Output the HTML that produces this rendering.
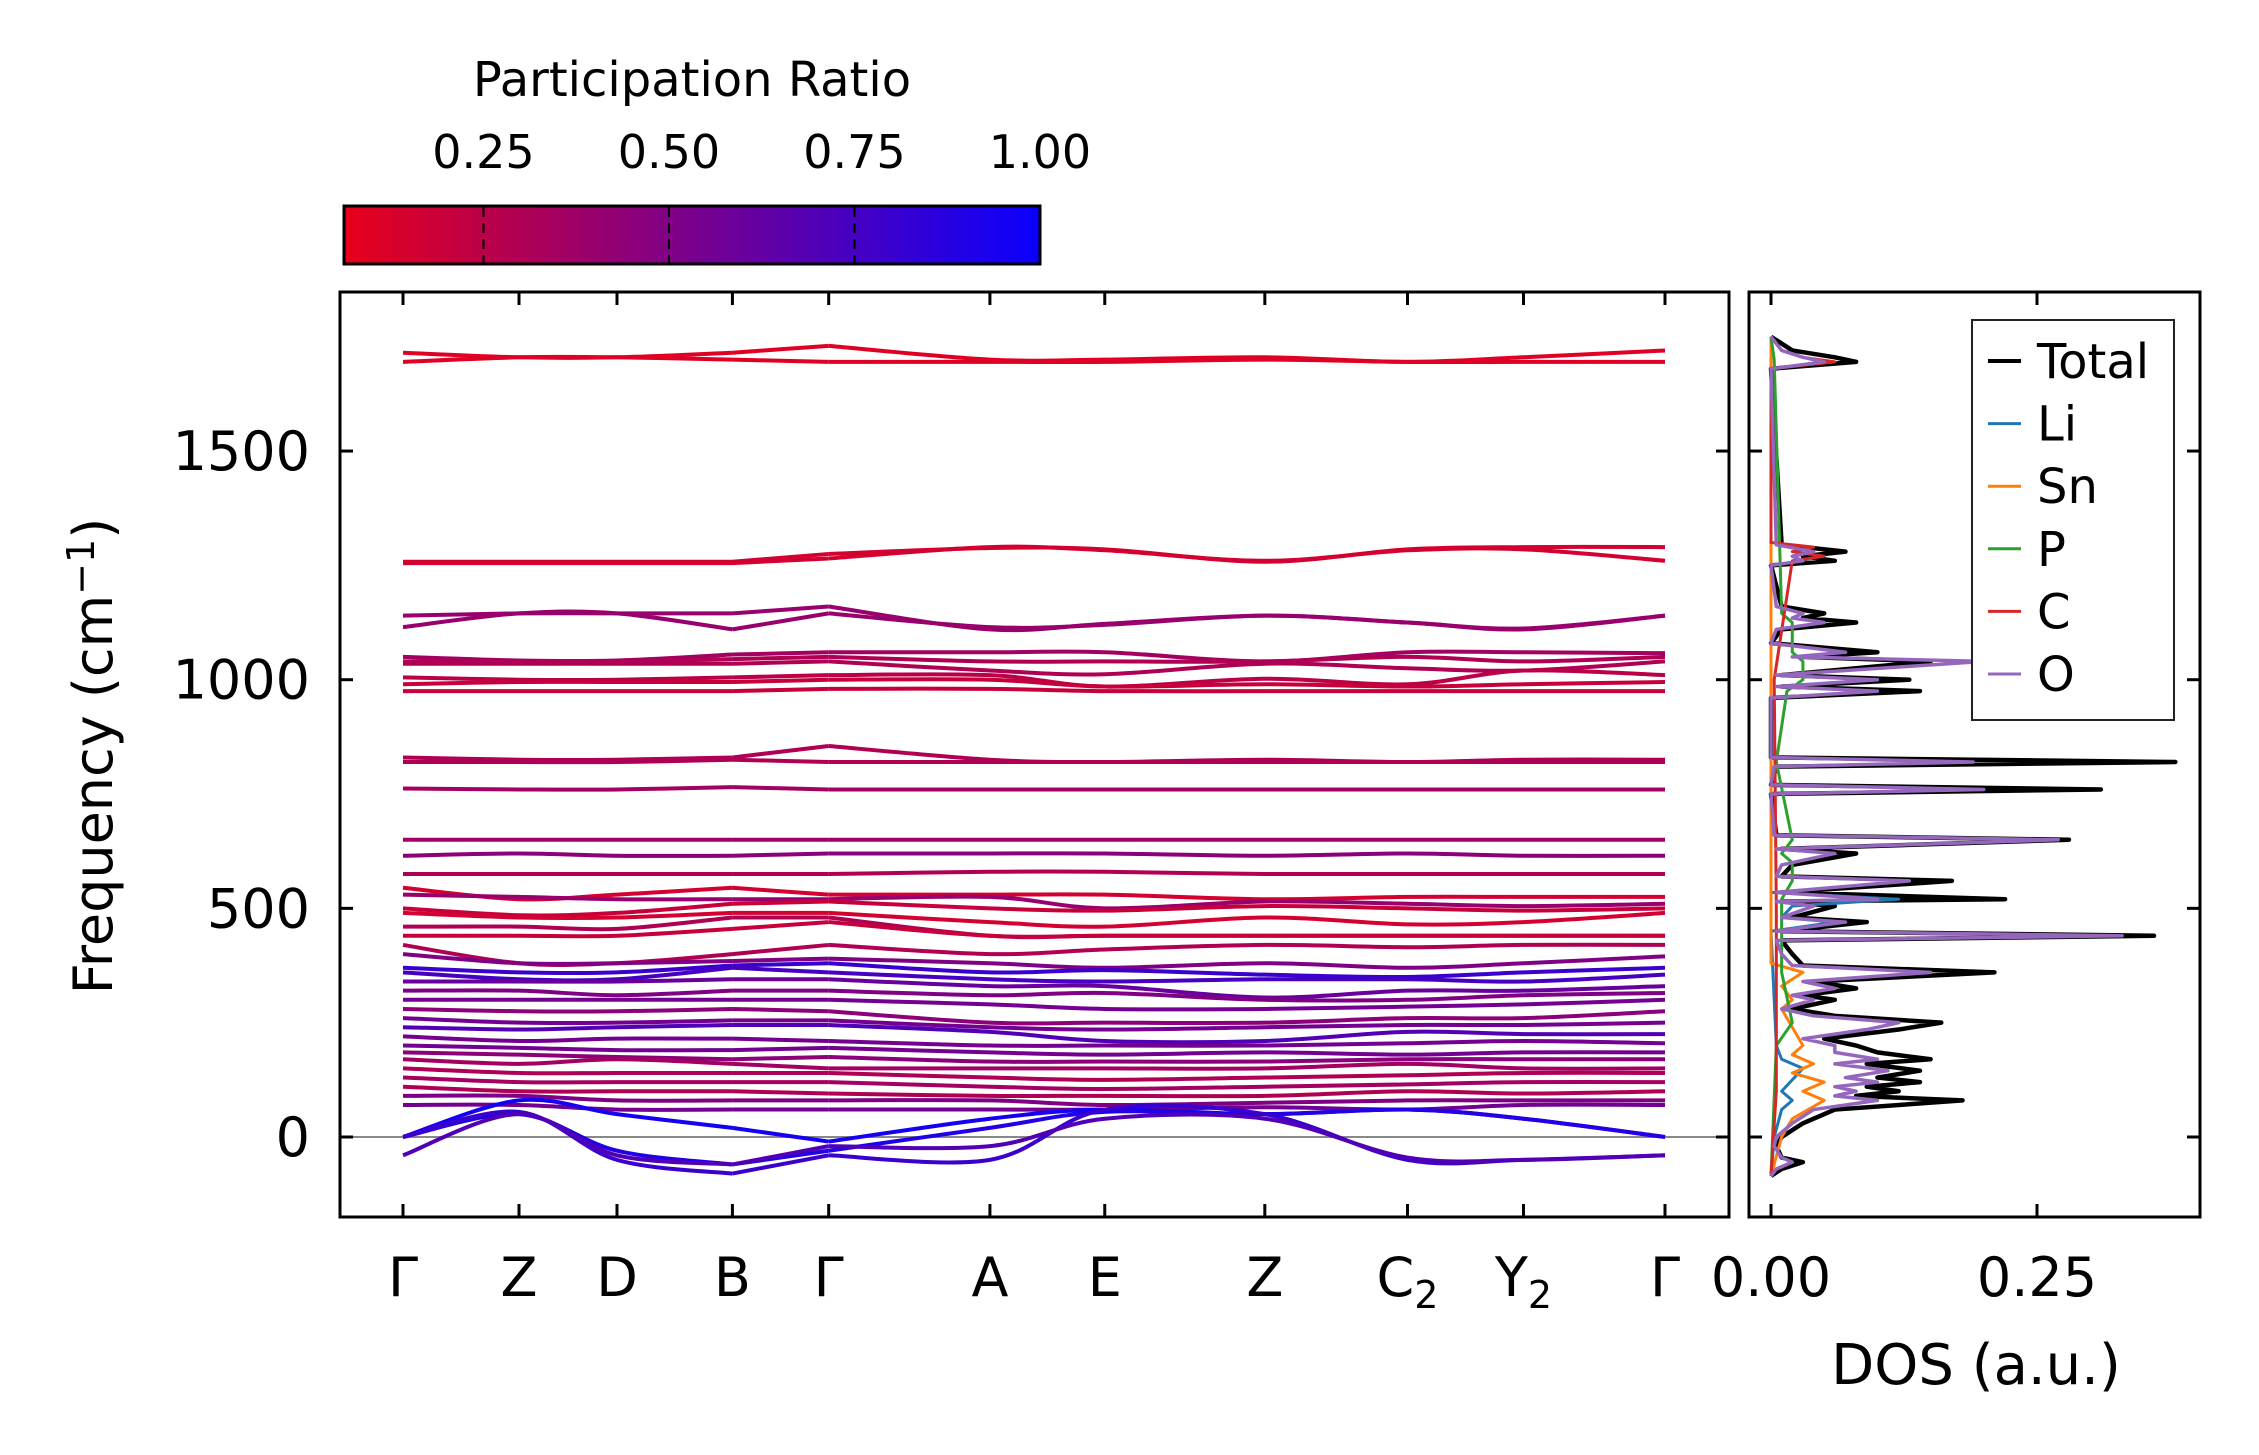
<!DOCTYPE html>
<html><head><meta charset="utf-8"><style>
html,body{margin:0;padding:0;background:#fff}
svg{display:block;font-family:"DejaVu Sans","Liberation Sans",sans-serif}
</style></head><body>
<svg id="chart" width="2259" height="1455" viewBox="0 0 2259 1455" xmlns="http://www.w3.org/2000/svg">
<defs>
<linearGradient id="cmap" x1="0" x2="1" y1="0" y2="0">
<stop offset="0" stop-color="rgb(232,0,26)"/>
<stop offset="1" stop-color="rgb(10,0,255)"/>
</linearGradient>
<clipPath id="mainclip"><rect x="340" y="292" width="1389" height="925"/></clipPath>
<clipPath id="dosclip"><rect x="1749" y="292" width="451" height="925"/></clipPath>
</defs>
<g id="colorbar">
<text x="692" y="96" font-size="48" text-anchor="middle">Participation Ratio</text>
<rect x="344" y="206" width="696" height="58" fill="url(#cmap)" stroke="#000" stroke-width="3"/>
</g>
<g id="mainax"></g>
<g id="dosax"></g>
</svg>
<script>
const NS='http://www.w3.org/2000/svg';
const kLabels=['Γ','Z','D','B','Γ','A','E','Z','C','Y','Γ'];
const kSubs=['','','','','','','','','2','2',''];
const kDist=[0,1,1.845,2.84,3.67,5.06,6.05,7.43,8.66,9.66,10.88];
const yTicks=[0,500,1000,1500];
const cbTicks=[0.25,0.5,0.75,1.0];
const cbTickLabels=['0.25','0.50','0.75','1.00'];
const bandValues=[
[1715,1705,1705,1715,1730,1700,1700,1705,1695,1705,1720],
[1695,1705,1705,1700,1695,1695,1695,1700,1695,1695,1695],
[1258,1258,1258,1258,1275,1288,1285,1258,1285,1290,1290],
[1255,1255,1255,1255,1265,1290,1283,1260,1283,1285,1260],
[1140,1145,1145,1145,1160,1110,1122,1140,1125,1110,1140],
[1115,1145,1145,1110,1145,1115,1120,1140,1125,1112,1140],
[1050,1042,1042,1055,1060,1060,1060,1040,1060,1060,1058],
[1040,1040,1040,1045,1050,1040,1040,1040,1050,1040,1050],
[1035,1035,1035,1035,1040,1020,1012,1035,1025,1020,1040],
[1005,1000,1000,1005,1010,1010,985,1002,990,1020,1010],
[990,995,995,995,1000,1000,985,990,985,990,995],
[975,975,975,975,980,980,975,975,975,975,975],
[830,825,825,830,855,825,820,825,820,825,825],
[820,820,820,825,820,820,820,820,820,820,820],
[762,760,760,765,760,760,760,760,760,760,760],
[650,650,650,650,650,650,650,650,650,650,650],
[615,620,615,615,620,620,620,615,620,615,615],
[575,575,575,575,575,580,580,575,575,575,575],
[545,520,530,545,530,530,530,520,525,525,525],
[530,525,520,520,520,525,500,515,510,505,510],
[500,485,490,510,515,500,495,505,500,495,500],
[490,480,480,490,490,470,460,480,465,470,490],
[460,460,455,480,480,440,440,440,440,440,440],
[440,440,440,455,470,440,440,440,440,440,440],
[420,380,380,400,420,400,410,420,415,420,420],
[400,380,380,385,390,380,370,380,370,380,395],
[370,360,360,375,380,360,365,355,350,360,370],
[360,345,345,370,360,345,340,345,345,340,355],
[340,340,340,345,345,330,330,305,320,320,330],
[320,320,310,320,320,310,315,300,300,310,315],
[300,300,300,300,300,290,280,280,285,290,300],
[280,275,275,280,275,250,250,250,260,260,275],
[260,250,250,255,255,240,235,240,245,245,250],
[240,235,240,245,245,230,210,210,230,225,225],
[220,210,215,215,210,200,200,200,205,210,205],
[200,195,190,190,195,185,180,185,180,185,185],
[185,180,175,170,175,165,165,165,170,170,170],
[170,160,170,160,150,150,150,150,160,150,150],
[150,140,140,140,140,130,125,130,135,140,140],
[130,120,120,120,120,110,105,110,115,120,120],
[110,100,100,100,95,90,90,90,100,95,100],
[90,90,80,80,80,80,70,75,80,80,80],
[70,70,60,60,60,60,60,65,60,70,70],
[0,80,50,20,-10,40,60,50,60,40,0],
[0,50,-30,-60,-30,20,55,50,60,40,0],
[0,55,-50,-80,-40,-50,60,50,-50,-50,-40],
[-40,50,-40,-60,-20,-20,40,40,-45,-50,-40]
];
const bandRatio=[0.1,0.1,0.15,0.15,0.4,0.4,0.35,0.3,0.3,0.25,0.2,0.2,0.3,0.3,0.35,0.35,0.45,0.3,0.15,0.4,0.2,0.15,0.3,0.2,0.3,0.5,0.8,0.75,0.6,0.5,0.55,0.45,0.55,0.7,0.55,0.55,0.45,0.35,0.3,0.35,0.3,0.5,0.55,0.95,0.9,0.8,0.7];
const dosF=[-85,-70,-55,-45,-20,0,30,60,80,90,100,110,120,130,145,160,170,185,200,215,235,250,265,280,300,310,325,340,360,375,400,430,440,450,470,480,505,515,520,535,560,570,595,620,630,650,660,750,760,770,810,820,830,960,975,985,1000,1010,1040,1050,1060,1080,1110,1125,1135,1145,1160,1250,1260,1270,1280,1295,1680,1695,1705,1720,1750];
const totalV=[0,0.01,0.03,0.01,0.005,0.01,0.03,0.06,0.18,0.08,0.12,0.09,0.14,0.1,0.14,0.09,0.15,0.1,0.08,0.05,0.12,0.16,0.06,0.02,0.06,0.03,0.08,0.04,0.21,0.03,0.02,0.01,0.36,0.01,0.09,0.02,0.06,0.01,0.22,0.01,0.17,0.01,0.02,0.08,0.01,0.28,0.005,0,0.31,0,0.005,0.38,0,0,0.14,0.01,0.13,0.01,0.15,0.03,0.1,0,0.01,0.08,0.03,0.05,0.01,0,0.06,0.03,0.07,0.01,0,0.08,0.06,0.02,0];
const oV=[0,0.005,0.02,0.01,0.003,0.005,0.02,0.04,0.1,0.06,0.08,0.06,0.1,0.07,0.11,0.06,0.1,0.06,0.06,0.03,0.09,0.12,0.04,0.01,0.04,0.02,0.06,0.03,0.15,0.02,0.01,0.005,0.33,0.005,0.07,0.01,0.04,0.005,0.1,0.005,0.13,0.005,0.01,0.06,0.005,0.27,0.003,0,0.2,0,0.003,0.19,0,0,0.1,0.005,0.1,0.005,0.2,0.02,0.07,0,0.005,0.05,0.02,0.03,0.005,0,0.03,0.02,0.04,0.005,0,0.05,0.03,0.01,0];
const liF=[-85,0,60,80,100,150,170,200,450,470,480,505,520,535,1750];
const liV=[0,0.003,0.01,0.02,0.01,0.03,0.01,0.005,0,0.06,0.01,0.02,0.12,0,0];
const snF=[-85,0,40,80,100,120,140,160,180,200,240,280,300,330,360,380,1750];
const snV=[0,0.01,0.02,0.05,0.03,0.05,0.02,0.04,0.02,0.03,0.02,0.01,0.02,0.01,0.03,0,0];
const pF=[-85,200,250,360,520,560,600,620,650,820,975,1000,1040,1060,1125,1145,1700,1750];
const pV=[0,0.005,0.02,0.01,0.01,0.02,0.02,0.01,0.02,0.005,0.015,0.03,0.03,0.02,0.02,0.01,0.003,0];
const cF=[-85,100,500,1000,1260,1270,1280,1290,1300,1680,1695,1705,1720,1750];
const cV=[0,0.005,0.005,0.003,0.02,0.05,0.02,0.04,0,0,0.06,0.03,0.01,0];
const dosTicks=[0,0.25];
const dosTickLabels=['0.00','0.25'];
const legendNames=['Total','Li','Sn','P','C','O'];
const M={l:340,r:1729,t:292,b:1217};
const D={l:1749,r:2200};
const kx=d=>403+(d/10.88)*(1665-403);
const fy=v=>1137-v*0.4573;
const dx=v=>1771+v*1064;
const cbx=v=>1040-(1-v)*742;
function mk(tag,attrs,parent){const e=document.createElementNS(NS,tag);for(const k in attrs)e.setAttribute(k,attrs[k]);parent.appendChild(e);return e;}
function col(p){const t=Math.max(0,Math.min(1,(p-0.06)/0.94));return `rgb(${Math.round(232-222*t)},0,${Math.round(26+229*t)})`;}
function crPath(pts){let d=`M${pts[0][0]},${pts[0][1]}`;for(let i=0;i<pts.length-1;i++){const p0=pts[Math.max(0,i-1)],p1=pts[i],p2=pts[i+1],p3=pts[Math.min(pts.length-1,i+2)];const c1=[p1[0]+(p2[0]-p0[0])/6,p1[1]+(p2[1]-p0[1])/6],c2=[p2[0]-(p3[0]-p1[0])/6,p2[1]-(p3[1]-p1[1])/6];d+=`C${c1[0]},${c1[1]} ${c2[0]},${c2[1]} ${p2[0]},${p2[1]}`;}return d;}
const cb=document.getElementById('colorbar');
cbTicks.forEach((t,i)=>{
  const l=mk('line',{x1:cbx(t),x2:cbx(t),y1:207,y2:263,stroke:'#000','stroke-width':2,'stroke-dasharray':'10,6'},cb);
  
  
  const tx=mk('text',{x:cbx(t),y:168,'font-size':46,'text-anchor':'middle'},cb);
  tx.textContent=cbTickLabels[i];
  
  
});
const ma=document.getElementById('mainax');
const bg=mk('g',{'clip-path':'url(#mainclip)'},ma);
const zl=mk('line',{x1:M.l,x2:M.r,y1:fy(0),y2:fy(0),stroke:'#888','stroke-width':2},bg);


const segs=[[0,3],[3,4],[4,10]];
bandValues.forEach((b,bi)=>{
  segs.forEach(s=>{
    const pts=[];for(let i=s[0];i<=s[1];i++)pts.push([kx(kDist[i]),fy(b[i])]);
    const p=mk('path',{d:crPath(pts),fill:'none',stroke:col(bandRatio[bi]),'stroke-width':4},bg);
    
    
  });
});
const fr=mk('rect',{x:M.l,y:M.t,width:M.r-M.l,height:M.b-M.t,fill:'none',stroke:'#000','stroke-width':3},ma);


kDist.forEach((d,i)=>{
  const x=kx(d);
  mk('line',{x1:x,x2:x,y1:M.b,y2:M.b-13,stroke:'#000','stroke-width':3},ma);
  mk('line',{x1:x,x2:x,y1:M.t,y2:M.t+13,stroke:'#000','stroke-width':3},ma);
  const t=mk('text',{x:x,y:1296,'font-size':54,'text-anchor':'middle'},ma);
  t.textContent=kLabels[i];
  if(kSubs[i]){const s=mk('tspan',{'font-size':38,dy:12},t);s.textContent=kSubs[i];}
  
  
});
yTicks.forEach(v=>{
  const y=fy(v);
  mk('line',{x1:M.l,x2:M.l+13,y1:y,y2:y,stroke:'#000','stroke-width':3},ma);
  mk('line',{x1:M.r,x2:M.r-13,y1:y,y2:y,stroke:'#000','stroke-width':3},ma);
  mk('line',{x1:D.l,x2:D.l+13,y1:y,y2:y,stroke:'#000','stroke-width':3},ma);
  mk('line',{x1:D.r,x2:D.r-13,y1:y,y2:y,stroke:'#000','stroke-width':3},ma);
  const t=mk('text',{x:310,y:y+19,'font-size':54,'text-anchor':'end'},ma);
  t.textContent=String(v);
  
  
});
const yl=mk('text',{x:0,y:0,'font-size':54,'text-anchor':'middle',transform:'translate(112,756) rotate(-90)'},ma);
yl.innerHTML='Frequency (cm<tspan font-size="38" dy="-18">−1</tspan><tspan dy="18">)</tspan>';


const da=document.getElementById('dosax');
const dg=mk('g',{'clip-path':'url(#dosclip)'},da);
const series=[[dosF,totalV,'#000',4.5,'dos-total'],[liF,liV,'#1f77b4',3,'dos-li'],[snF,snV,'#ff7f0e',3,'dos-sn'],[pF,pV,'#2ca02c',3,'dos-p'],[cF,cV,'#d62728',3,'dos-c'],[dosF,oV,'#9467bd',3.5,'dos-o']];
series.forEach(s=>{
  const pts=s[0].map((f,i)=>`${dx(s[1][i])},${fy(f)}`).join(' ');
  const pl=mk('polyline',{points:pts,fill:'none',stroke:s[2],'stroke-width':s[3],'stroke-linejoin':'round'},dg);
  
  
});
const df=mk('rect',{x:D.l,y:M.t,width:D.r-D.l,height:M.b-M.t,fill:'none',stroke:'#000','stroke-width':3},da);


dosTicks.forEach((v,i)=>{
  const x=dx(v);
  mk('line',{x1:x,x2:x,y1:M.b,y2:M.b-13,stroke:'#000','stroke-width':3},da);
  mk('line',{x1:x,x2:x,y1:M.t,y2:M.t+13,stroke:'#000','stroke-width':3},da);
  const t=mk('text',{x:x,y:1296,'font-size':54,'text-anchor':'middle'},da);
  t.textContent=dosTickLabels[i];
  
  
});
const dl=mk('text',{x:1976,y:1384,'font-size':56,'text-anchor':'middle'},da);
dl.textContent='DOS (a.u.)';


const lg=mk('g',{},da);


mk('rect',{x:1972,y:320,width:202,height:400,fill:'#fff',stroke:'#222','stroke-width':2},lg);
legendNames.forEach((n,i)=>{
  const y=361+i*62.6;
  const s=series[i];
  mk('line',{x1:1988,x2:2021,y1:y,y2:y,stroke:s[2],'stroke-width':i===0?4:3},lg);
  const t=mk('text',{x:2037,y:y+17,'font-size':48},lg);
  t.textContent=n;
  
  
});
</script>
</body></html>
